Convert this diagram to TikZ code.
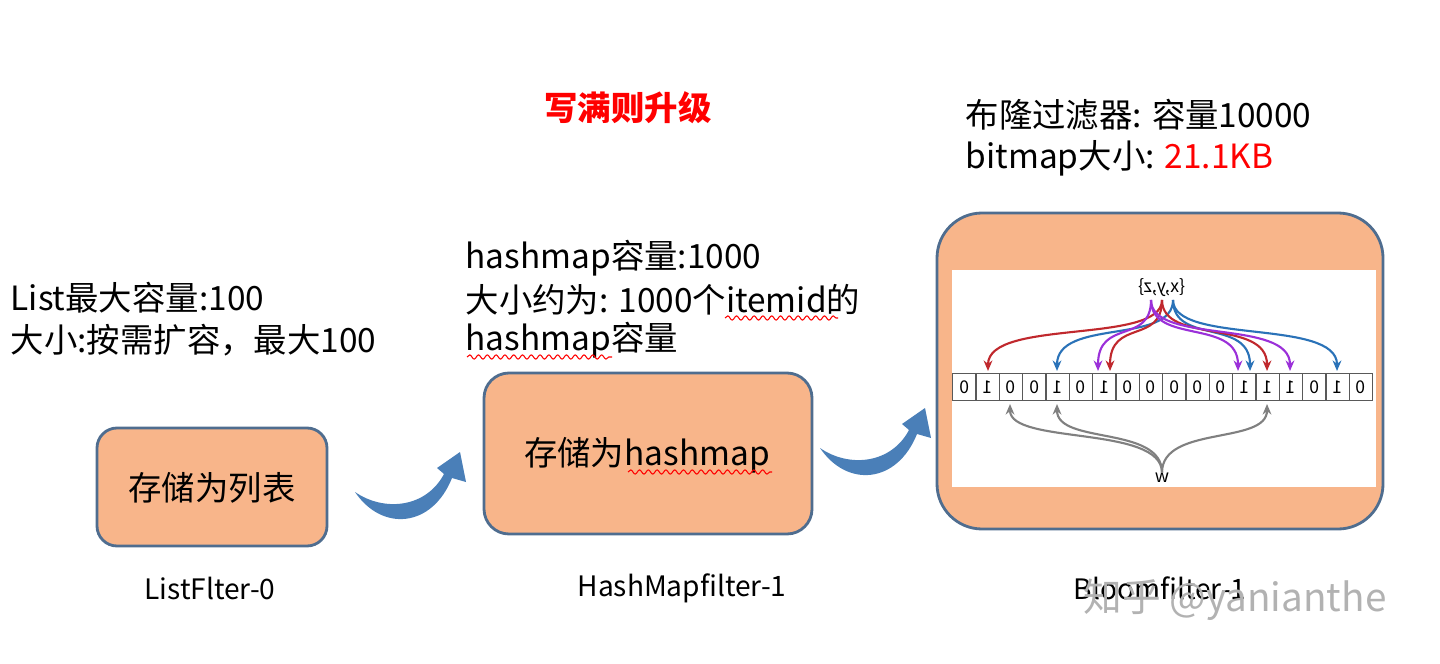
\documentclass[tikz,border=0pt]{standalone}
\usepackage{fontspec}
\setmainfont{Noto Sans CJK SC}
\usetikzlibrary{arrows.meta,decorations.pathmorphing}
\definecolor{boxfill}{HTML}{F8B58A}
\definecolor{boxline}{HTML}{4F6D8F}
\definecolor{arrowblue}{HTML}{4A7FB8}
\definecolor{bfred}{HTML}{C0282D}
\definecolor{bfblue}{HTML}{2A72B8}
\definecolor{bfpurple}{HTML}{9B30D9}
\begin{document}
\begin{tikzpicture}[x=0.01cm,y=-0.01cm,>={Stealth[length=3pt,width=2.5pt]},
  filterbox/.style={draw=boxline,fill=boxfill,line width=0.8pt},
  txt/.style={font=\fontsize{9.5}{11}\selectfont,anchor=west,inner sep=0},
  filtername/.style={font=\fontsize{8}{10}\selectfont,inner sep=0},
  squiggle/.style={red,line width=0.3pt,decorate,decoration={snake,amplitude=0.6pt,segment length=2.5pt}},
  hashto/.style={->,line width=0.6pt},
  bit/.style={draw=gray!70!black,line width=0.4pt,minimum width=23.33*0.01cm,minimum height=0.27cm,inner sep=0,font=\tiny}]

\useasboundingbox (0,0) rectangle (1440,664);

%------------------------
% Title
%------------------------
\node[txt,anchor=center,red,font=\fontsize{9.5}{11}\selectfont\bfseries] (title) at (628,108) {写满则升级};

%------------------------
% Descriptions
%------------------------
\node[txt] (listcap1) at (10,298) {List最大容量:100};
\node[txt] (listcap2) at (10,340) {大小:按需扩容，最大100};
\node[txt] (hashcap1) at (465,258) {hashmap容量:1000};
\node[txt] (hashcap2) at (465,300) {大小约为: 1000个itemid的};
\node[txt] (hashcap3) at (465,340) {hashmap容量};
\node[txt] (bloomcap1) at (965,115) {布隆过滤器: 容量10000};
\node[txt] (bloomcap2) at (965,158) {bitmap大小: \textcolor{red}{21.1KB}};

\draw[squiggle] (725,318) -- (838,318);
\draw[squiggle] (467,357) -- (612,357);

%------------------------
% Filter boxes
%------------------------
\draw[filterbox,rounded corners=0.2cm] (97,428) rectangle (327,546);
\node[txt,anchor=center] (listtxt) at (212,488) {存储为列表};
\draw[filterbox,rounded corners=0.25cm] (484,373) rectangle (812,534);
\node[txt,anchor=center] (hashtxt) at (647,455) {存储为hashmap};
\draw[squiggle] (628,472) -- (772,472);
\draw[filterbox,rounded corners=0.45cm] (937,213) rectangle (1383,529);
\fill[white] (952,270) rectangle (1376,487);

%------------------------
% Upgrade arrows
%------------------------
\foreach \dx/\dy in {0/0,465/-44}{
  \fill[arrowblue,shift={(\dx,\dy)}]
    (355,492) .. controls (382,532) and (432,528) .. (452,478)
    -- (466,482) -- (460,452) -- (437,468) -- (444,474)
    .. controls (426,508) and (384,512) .. (355,492) -- cycle;
}

%------------------------
% Bitmap (mirrored)
%------------------------
\foreach \b [count=\i from 0] in {0,1,0,0,1,0,1,0,0,0,0,0,1,1,1,0,1,0}
  \node[bit] (c\i) at ({952.7+23.33*(\i+0.5)},387) {\reflectbox{\b}};

\node[font=\tiny,inner sep=0] (xyz) at (1162,288) {\reflectbox{\{x,y,z\}}};
\node[font=\tiny,inner sep=0] (w) at (1162,478) {\reflectbox{w}};

\foreach \s/\t/\c in {1162/988/bfred,1173/1057/bfblue,1151/1098/bfpurple,
    1162/1110/bfred,1151/1238/bfpurple,1173/1250/bfblue,1162/1267/bfred,
    1151/1290/bfpurple,1173/1337/bfblue}
  \draw[hashto,\c] (\s,300) .. controls (\s,345) and (\t,318) .. (\t,371);

\foreach \t in {1010,1057,1267}
  \draw[hashto,gray] (w.north) .. controls (1162,425) and (\t,445) .. (\t,404);

%------------------------
% Captions
%------------------------
\node[filtername] (listname) at (210,588) {ListFlter-0};
\node[filtername] (hashname) at (682,588) {HashMapfilter-1};
\node[filtername] (bloomname) at (1160,588) {Bloomfilter-1};
\node[font=\fontsize{11}{13}\selectfont,gray!60,inner sep=0] (mark) at (1235,600) {知乎 @yanianthe};

\end{tikzpicture}
\end{document}
